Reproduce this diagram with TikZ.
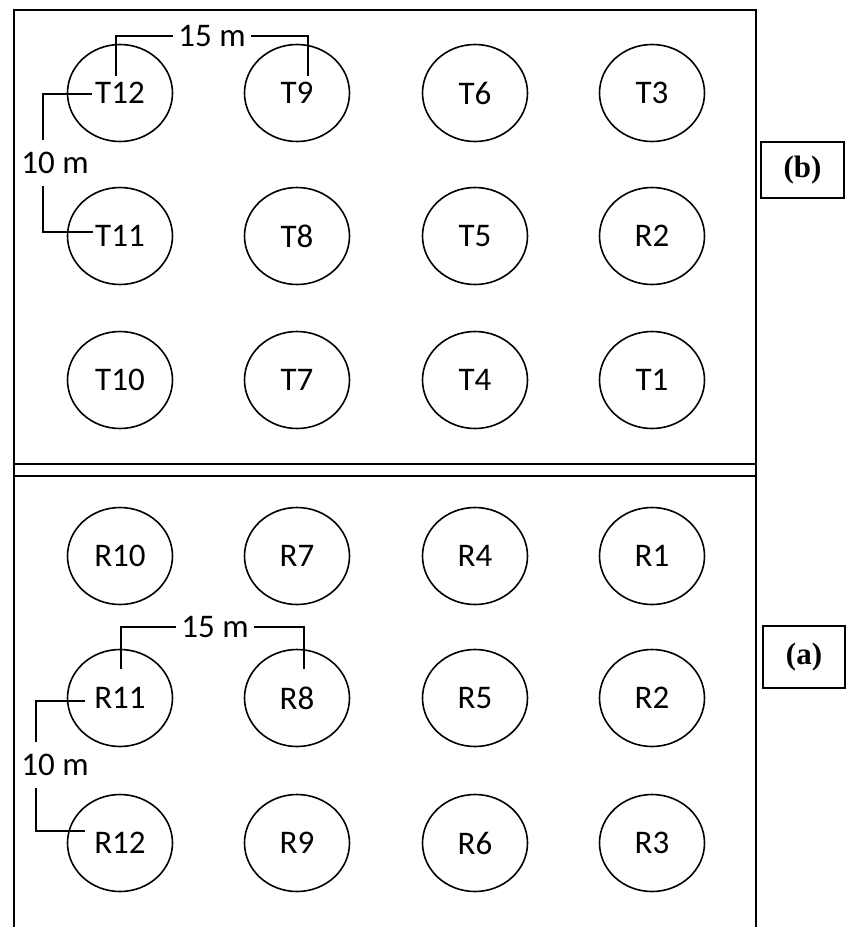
\documentclass[tikz,border=0pt]{standalone}
\usepackage{fontspec}
\setmainfont{Carlito}
\newfontfamily\tagfont{Liberation Serif}
\usetikzlibrary{shapes.geometric,calc}

\begin{document}
\begin{tikzpicture}[x=1pt,y=-1pt,
  plot/.style={ellipse,draw,line width=1.6pt,minimum width=105pt,minimum height=97pt,
    inner sep=0pt,font=\fontsize{33}{33}\selectfont},
  dim/.style={line width=1.4pt},
  dimtxt/.style={inner xsep=5pt,inner ysep=12pt,font=\fontsize{33}{33}\selectfont},
  tag/.style={draw,line width=1.4pt,minimum width=83pt,minimum height=56pt,inner sep=0pt,
    font=\tagfont\bfseries\fontsize{31}{31}\selectfont}]
\useasboundingbox (0,0) rectangle (846,927);
% field borders, open at the bottom
\draw[line width=2pt] (14,927) -- (14,10) -- (756,10) -- (756,927);
\draw[line width=2pt] (14,464) -- (756,464) (14,476) -- (756,476);
% plots of field (b)
\foreach \name/\txt/\x/\y in {T12/T12/120/93,T11/T11/120/236,T10/T10/120/380,
    T9/T9/297/93,T8/T8/297/236,T7/T7/297/380,
    T6/T6/475/93,T5/T5/475/236,T4/T4/475/380,
    T3/T3/652/93,R2b/R2/652/236,T1/T1/652/380}
  \node[plot] (\name) at (\x,\y) {\txt};
% plots of field (a)
\foreach \name/\x/\y in {R10/120/556,R11/120/698,R12/120/843,
    R7/297/556,R8/297/698,R9/297/843,
    R4/475/556,R5/475/698,R6/475/843,
    R1/652/556,R2/652/698,R3/652/843}
  \node[plot] (\name) at (\x,\y) {\name};
% spacing marks, field (b)
\node[dimtxt] (m15b) at (212,36) {15 m};
\draw[dim] ($(T12)+(-4,-17)$) |- (m15b.west);
\draw[dim] ($(T9)+(11,-17)$) |- (m15b.east);
\node[dimtxt] (m10b) at (55,163) {10 m};
\draw[dim] ($(T12)+(-28,1)$) -| ([xshift=-12pt]m10b.north);
\draw[dim] ([xshift=-12pt]m10b.south) |- ($(T11)+(-27,-4)$);
% spacing marks, field (a)
\node[dimtxt] (m15a) at (215,627) {15 m};
\draw[dim] ($(R11)+(1,-29)$) |- (m15a.west);
\draw[dim] ($(R8)+(7,-29)$) |- (m15a.east);
\node[dimtxt] (m10a) at (55,765) {10 m};
\draw[dim] ($(R11)+(-35,3)$) -| ([xshift=-19pt]m10a.north);
\draw[dim] ([xshift=-19pt]m10a.south) |- ($(R12)+(-35,-12)$);
% field tags
\node[tag] (tagb) at (802.5,170) {(b)};
\node[tag,minimum width=82pt,minimum height=62pt] (taga) at (804,657) {(a)};
\end{tikzpicture}
\end{document}
